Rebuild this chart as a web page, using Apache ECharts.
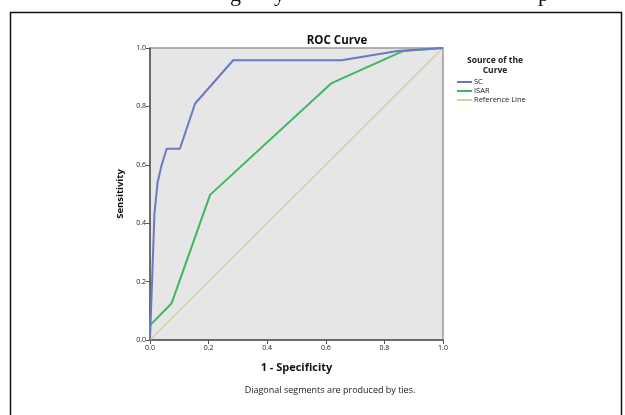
<!DOCTYPE html>
<html>
<head>
<meta charset="utf-8">
<script src="https://cdn.jsdelivr.net/npm/echarts@6/dist/echarts.min.js"></script>
<style>
  html, body { margin: 0; padding: 0; background: #fff; }
  #chart { width: 625px; height: 415px; }
</style>
</head>
<body>
<div id="chart"></div>
<script>
// ROC curve data
var scX = [0, 0.007, 0.015, 0.026, 0.04, 0.057, 0.102, 0.154, 0.284, 0.654, 0.845, 1.0];
var scY = [0, 0.2, 0.43, 0.54, 0.6, 0.655, 0.655, 0.81, 0.958, 0.958, 0.99, 1.0];
var isarX = [0, 0, 0.074, 0.205, 0.62, 0.865, 1.0];
var isarY = [0, 0.05, 0.126, 0.497, 0.88, 0.99, 1.0];
var refX = [0, 1];
var refY = [0, 1];
var tickLabels = ["0.0", "0.2", "0.4", "0.6", "0.8", "1.0"];
var seriesNames = ["SC", "ISAR", "Reference Line"];

function pairs(xs, ys) {
  var out = [];
  for (var i = 0; i < xs.length; i++) out.push([xs[i], ys[i]]);
  return out;
}

var chart = echarts.init(document.getElementById("chart"));
var fontF = "'Open Sans', 'DejaVu Sans', sans-serif";

var axisCommon = {
  type: "value",
  min: 0,
  max: 1,
  interval: 0.2,
  nameLocation: "middle",
  nameTextStyle: { fontFamily: fontF, fontWeight: "bold", color: "#111" },
  axisLine: { show: true, lineStyle: { color: "#555", width: 1.5 } },
  axisTick: { show: true, length: 4, lineStyle: { color: "#555" } },
  axisLabel: {
    fontFamily: fontF,
    fontSize: 7,
    color: "#222",
    margin: 4,
    formatter: function (v) { return tickLabels[Math.round(v / 0.2)]; }
  },
  splitLine: { show: false }
};

var option = {
  backgroundColor: "#fff",
  animation: false,
  title: [
    {
      text: "ROC Curve",
      left: 332,
      top: 30,
      textAlign: "center",
      textStyle: { fontFamily: fontF, fontSize: 11.5, fontWeight: "bold", color: "#111" }
    },
    {
      text: "Source of the\nCurve",
      left: 490,
      top: 51,
      textAlign: "center",
      textStyle: { fontFamily: fontF, fontSize: 8.5, fontWeight: "bold", color: "#222", lineHeight: 10 }
    }
  ],
  legend: {
    orient: "vertical",
    left: 452,
    top: 73,
    icon: "rect",
    itemWidth: 15,
    itemHeight: 2,
    itemGap: 1,
    data: seriesNames,
    textStyle: { fontFamily: fontF, fontSize: 7.5, color: "#222", padding: [0, 0, 0, -3] }
  },
  grid: {
    left: 150,
    top: 48,
    width: 293,
    height: 292,
    show: true,
    backgroundColor: "#e6e6e6",
    borderColor: "#999",
    borderWidth: 1.5
  },
  xAxis: Object.assign({}, axisCommon, {
    name: "1 - Specificity",
    nameGap: 22,
    nameTextStyle: { fontFamily: fontF, fontWeight: "bold", fontSize: 11, color: "#111" }
  }),
  yAxis: Object.assign({}, axisCommon, {
    name: "Sensitivity",
    nameGap: 25,
    nameTextStyle: { fontFamily: fontF, fontWeight: "bold", fontSize: 9.5, color: "#111" }
  }),
  series: [
    {
      name: seriesNames[0],
      type: "line",
      data: pairs(scX, scY),
      symbol: "none",
      lineStyle: { color: "#6a78c6", width: 2 },
      itemStyle: { color: "#6a78c6" },
      z: 4
    },
    {
      name: seriesNames[1],
      type: "line",
      data: pairs(isarX, isarY),
      symbol: "none",
      lineStyle: { color: "#3cb862", width: 2 },
      itemStyle: { color: "#3cb862" },
      z: 3
    },
    {
      name: seriesNames[2],
      type: "line",
      data: pairs(refX, refY),
      symbol: "none",
      lineStyle: { color: "#d8d0a2", width: 1.5 },
      itemStyle: { color: "#d8d0a2" },
      z: 2
    }
  ],
  graphic: [
    {
      type: "rect",
      shape: { x: 10.5, y: 12.5, width: 611, height: 420 },
      style: { fill: "none", stroke: "#111", lineWidth: 1.5 },
      silent: true
    },
    {
      type: "text",
      x: 330,
      y: 386,
      style: {
        text: "Diagonal segments are produced by ties.",
        fontFamily: fontF,
        fontSize: 9,
        fill: "#222",
        align: "center"
      }
    },
    // cut-off letters from the page text above the figure
    { type: "text", x: 230, y: 6, style: { text: "g", font: "22px 'Liberation Serif'", fill: "#111", verticalAlign: "bottom" } },
    { type: "text", x: 274, y: 6, style: { text: "y", font: "22px 'Liberation Serif'", fill: "#111", verticalAlign: "bottom" } },
    { type: "text", x: 538, y: 6, style: { text: "p", font: "22px 'Liberation Serif'", fill: "#111", verticalAlign: "bottom" } }
  ]
};

chart.setOption(option);
</script>
</body>
</html>
